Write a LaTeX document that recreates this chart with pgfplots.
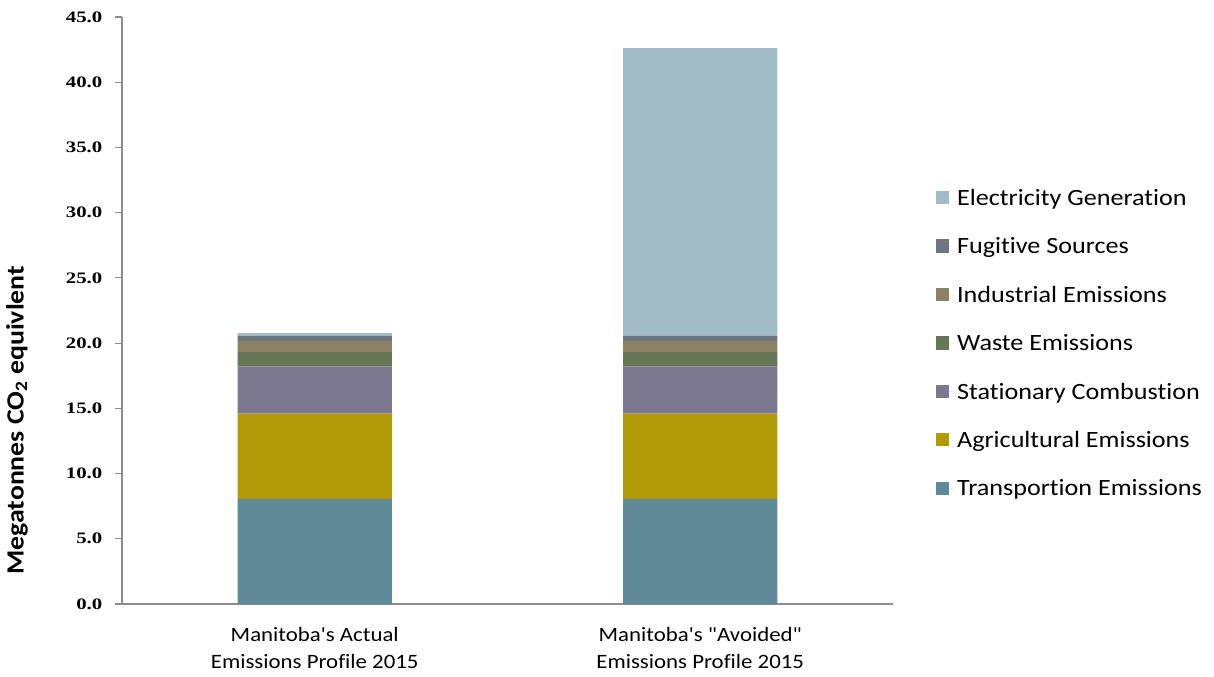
\documentclass[border=0pt]{standalone}
\usepackage{pgfplots}
\pgfplotsset{compat=1.18}
\usepackage{fontspec}
\setmainfont{Carlito}[Ligatures={TeXOff,CommonOff}, FakeStretch=1.12]
\newfontfamily\tickfont{Liberation Serif}[FakeStretch=1.3]
\definecolor{cElec}{HTML}{A2BCC7}
\definecolor{cFug}{HTML}{6E7480}
\definecolor{cInd}{HTML}{8B8265}
\definecolor{cWaste}{HTML}{667755}
\definecolor{cStat}{HTML}{7C788F}
\definecolor{cAgri}{HTML}{B39A08}
\definecolor{cTrans}{HTML}{608A98}
\definecolor{axgray}{HTML}{8C8C8C}
\begin{document}
\begin{tikzpicture}[x=1pt,y=1pt]
\begin{axis}[
  name=ax,
  scale only axis,
  width=578.25pt, height=440.25pt,
  ybar stacked,
  bar width=0.4,
  xmin=-0.5, xmax=1.5,
  ymin=0, ymax=45,
  axis lines*=left,
  axis line style={axgray, line width=0.8pt},
  xtick={0,1},
  xticklabels={{Manitoba's Actual\\Emissions Profile 2015},{Manitoba's "Avoided"\\Emissions Profile 2015}},
  xticklabel style={align=center, font=\fontsize{15.3}{20.25}\selectfont, yshift=-9pt},
  x tick style={draw=none},
  extra x ticks={-0.5,0.5,1.5},
  extra x tick labels={},
  extra x tick style={tick style={draw=axgray, line width=0.8pt}, major tick length=6.5pt, tick align=outside},
  ytick={0,5,...,45},
  y tick style={axgray, line width=0.8pt},
  major tick length=5.25pt,
  tick align=outside,
  yticklabel style={font=\tickfont\bfseries\fontsize{12}{14}\selectfont, /pgf/number format/assume math mode=true, xshift=-6pt},
  y tick label style={/pgf/number format/.cd, fixed, fixed zerofill, precision=1},
  ylabel={Megatonnes CO\textsubscript{2} equivlent},
  ylabel style={font=\bfseries\fontsize{18.6}{20}\selectfont, at={(axis description cs:0,0.313)}, yshift=78.75pt, anchor=center},
  reverse legend,
  legend style={at={(1.050,0.716)}, anchor=north west, draw=none, fill=none,
    font=\fontsize{17.5}{19}\selectfont, row sep=18.7pt,
    /tikz/every even column/.append style={column sep=0pt}},
  legend cell align=left,
  legend image code/.code={\fill[#1] (0pt,-4.5pt) rectangle (10pt,5.5pt); \path (10pt,0pt) -- (14pt,0pt);},
]
\addplot[fill=cTrans, draw=none] coordinates {(0,8.05) (1,8.05)};
\addlegendentry{Transportion Emissions}
\addplot[fill=cAgri, draw=none] coordinates {(0,6.54) (1,6.54)};
\addlegendentry{Agricultural Emissions}
\addplot[fill=cStat, draw=none] coordinates {(0,3.61) (1,3.61)};
\addlegendentry{Stationary Combustion}
\addplot[fill=cWaste, draw=none] coordinates {(0,1.10) (1,1.10)};
\addlegendentry{Waste Emissions}
\addplot[fill=cInd, draw=none] coordinates {(0,0.87) (1,0.87)};
\addlegendentry{Industrial Emissions}
\addplot[fill=cFug, draw=none] coordinates {(0,0.41) (1,0.41)};
\addlegendentry{Fugitive Sources}
\addplot[fill=cElec, draw=none] coordinates {(0,0.18) (1,22.03)};
\addlegendentry{Electricity Generation}
\coordinate (o) at (rel axis cs:0,0);
\end{axis}
\path (o) ++(-91.5pt,-54pt) rectangle ++(910.5pt,507pt);
\end{tikzpicture}
\end{document}
